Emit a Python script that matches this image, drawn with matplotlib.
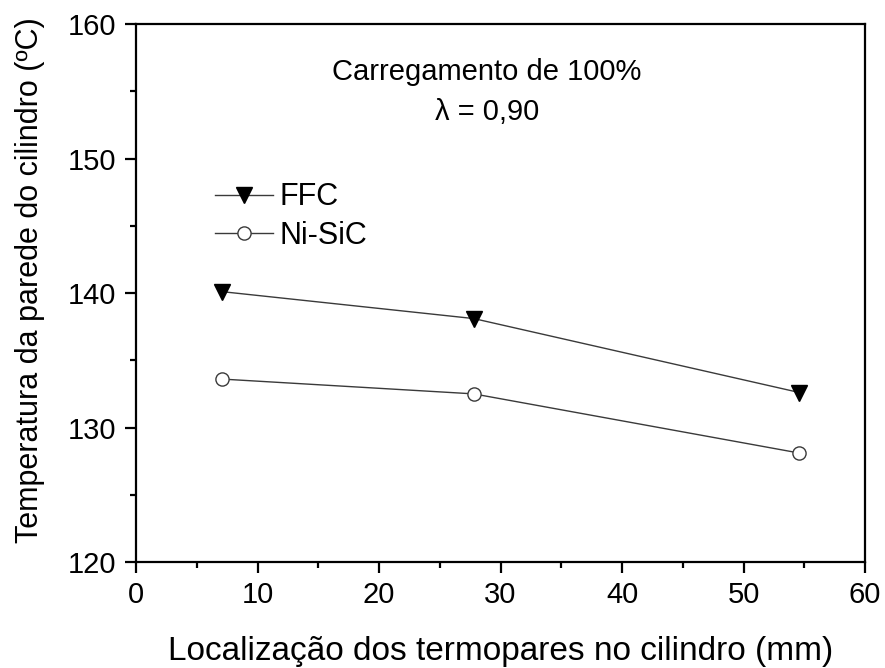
import numpy as np
import matplotlib.pyplot as plt
from matplotlib.ticker import MultipleLocator

plt.rcParams['font.family'] = ['Liberation Sans', 'DejaVu Sans']

# data
posicao = [7.1, 27.8, 54.6]
ffc = [140.1, 138.1, 132.6]
nisic = [133.6, 132.5, 128.1]

fig = plt.figure(figsize=(8.85, 6.68), dpi=100)
ax = fig.add_axes([0.1537, 0.1587, 0.8237, 0.8053])

ax.plot(posicao, ffc, color='#3a3a3a', lw=1.0, marker='v', ms=11,
        mfc='black', mec='black', label='FFC')
ax.plot(posicao, nisic, color='#3a3a3a', lw=1.0, marker='o', ms=9.5,
        mfc='white', mec='#3a3a3a', mew=1.0, label='Ni-SiC')

ax.set_xlim(0, 60)
ax.set_ylim(120, 160)
ax.xaxis.set_major_locator(MultipleLocator(10))
ax.xaxis.set_minor_locator(MultipleLocator(5))
ax.yaxis.set_major_locator(MultipleLocator(10))
ax.yaxis.set_minor_locator(MultipleLocator(5))

for s in ax.spines.values():
    s.set_linewidth(1.6)
ax.tick_params(which='major', direction='out', length=8, width=1.6,
               labelsize=21, pad=6)
ax.tick_params(which='minor', direction='out', length=4.3, width=1.6)

ax.set_xlabel('Localização dos termopares no cilindro (mm)', fontsize=24,
              labelpad=19)
ax.set_ylabel('Temperatura da parede do cilindro (ºC)', fontsize=22)
ax.yaxis.set_label_coords(-0.125, 0.524)

ax.text(28.9, 155.85, 'Carregamento de 100%', fontsize=21, ha='center',
        va='baseline')
ax.text(28.9, 152.9, 'λ = 0,90', fontsize=21, ha='center', va='baseline')

ax.legend(loc='upper left', bbox_to_anchor=(0.108, 0.706), frameon=False,
          fontsize=22, handlelength=1.9, handletextpad=0.23,
          labelspacing=0.28, borderaxespad=0, borderpad=0)

fig.savefig('out.png', dpi=100)
